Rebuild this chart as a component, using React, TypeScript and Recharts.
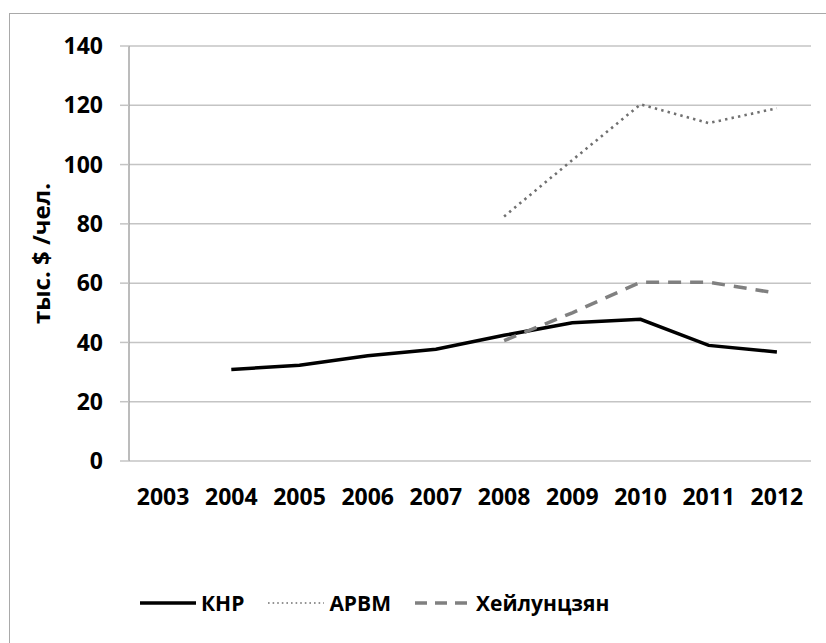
import React from 'react';
import { LineChart, Line, XAxis, YAxis, CartesianGrid, Legend, Label } from 'recharts';

// categories and values
const years = ['2003', '2004', '2005', '2006', '2007', '2008', '2009', '2010', '2011', '2012'];
const knrValues = [null, 30.9, 32.3, 35.5, 37.7, 42.4, 46.6, 47.8, 39.0, 36.8];
const arvmValues = [null, null, null, null, null, 82.5, 101.5, 120.3, 114.0, 119.0];
const heilValues = [null, null, null, null, null, 40.6, 50.0, 60.3, 60.3, 56.6];
const yTicks = [0, 20, 40, 60, 80, 100, 120, 140];

const seriesInfo = [
  { key: 'knr', name: 'КНР', color: '#000000', width: 3.5, dash: undefined },
  { key: 'arvm', name: 'АРВМ', color: '#707070', width: 2.6, dash: '2.4 4.2' },
  { key: 'heil', name: 'Хейлунцзян', color: '#808080', width: 3.5, dash: '13 9' },
];

const data = years.map((year, idx) => ({
  idx,
  year,
  knr: knrValues[idx],
  arvm: arvmValues[idx],
  heil: heilValues[idx],
}));

// tick marks sit between the categories, like in Excel
const boundaryTicks = years.map((_, i) => i - 0.5).concat(years.length - 0.5);
const centerTicks = years.map((_, i) => i);

const FONT = "'Open Sans', 'Liberation Sans', sans-serif";
const GRID = '#c4c4c4';
const AXIS = '#a6a6a6';

const tickStyle = { fill: '#000', fontSize: 23, fontWeight: 700, fontFamily: FONT };

const CustomLegend = () => (
  <div style={{ display: 'flex', alignItems: 'center', height: 30, paddingLeft: 140 }}>
    {seriesInfo.map((s) => (
      <div key={s.key} style={{ display: 'flex', alignItems: 'center', marginRight: 24 }}>
        <svg width={56} height={10} style={{ marginRight: 5 }}>
          <line
            x1={0}
            y1={5}
            x2={56}
            y2={5}
            stroke={s.color}
            strokeWidth={s.key === 'arvm' ? 1.6 : s.width}
            strokeDasharray={s.key === 'heil' ? '12 8' : s.key === 'arvm' ? '1.6 3' : undefined}
          />
        </svg>
        <span style={{ fontFamily: FONT, fontWeight: 700, fontSize: 21, color: '#000' }}>{s.name}</span>
      </div>
    ))}
  </div>
);

const YLabel = (props: any) => {
  const vb = props.viewBox || {};
  const cx = 40;
  const cy = vb.y + vb.height / 2;
  return (
    <text
      x={cx}
      y={cy}
      transform={`rotate(-90, ${cx}, ${cy})`}
      textAnchor="middle"
      dominantBaseline="central"
      style={{ fontFamily: FONT, fontWeight: 700, fontSize: 24, fill: '#000' }}
    >
      тыс. $ /чел.
    </text>
  );
};

export default function App() {
  return (
    <div
      style={{
        position: 'fixed',
        left: 0,
        top: 0,
        width: 826,
        height: 643,
        overflow: 'hidden',
        background: '#fff',
      }}
    >
      <div
        style={{
          position: 'absolute',
          left: 9,
          top: 13,
          width: 900,
          height: 700,
          border: '1.5px solid #a9a9a9',
        }}
      />
      <div style={{ position: 'absolute', left: 0, top: 0 }}>
        <LineChart width={826} height={643} data={data} margin={{ top: 46, right: 15, left: 0, bottom: 92 }}>
          <CartesianGrid
            xAxisId="t"
            vertical={false}
            stroke={GRID}
            strokeWidth={1.5}
          />
          <XAxis
            xAxisId="t"
            type="number"
            dataKey="idx"
            domain={[-0.5, years.length - 0.5]}
            ticks={boundaryTicks}
            interval={0}
            height={0}
            tickSize={9}
            tick={() => <g />}
            axisLine={{ stroke: AXIS, strokeWidth: 1.5 }}
            tickLine={{ stroke: AXIS, strokeWidth: 1.5 }}
          />
          <XAxis
            xAxisId="l"
            type="number"
            dataKey="idx"
            domain={[-0.5, years.length - 0.5]}
            ticks={centerTicks}
            interval={0}
            height={60}
            tickSize={0}
            tickMargin={28}
            tickFormatter={(i: number) => years[i]}
            axisLine={false}
            tickLine={false}
            tick={tickStyle}
          />
          <YAxis
            type="number"
            domain={[0, 140]}
            ticks={yTicks}
            interval={0}
            width={129}
            tickSize={9}
            tickMargin={17}
            tick={tickStyle}
            axisLine={{ stroke: AXIS, strokeWidth: 1.5 }}
            tickLine={{ stroke: GRID, strokeWidth: 1.5 }}
          >
            <Label content={<YLabel />} />
          </YAxis>
          <Legend
            verticalAlign="bottom"
            content={<CustomLegend />}
            wrapperStyle={{ top: 588, bottom: 'auto', left: 0, width: 826 }}
          />
          {seriesInfo.map((s) => (
            <Line
              key={s.key}
              xAxisId="t"
              type="linear"
              dataKey={s.key}
              name={s.name}
              stroke={s.color}
              strokeWidth={s.width}
              strokeDasharray={s.dash}
              dot={false}
              activeDot={false}
              isAnimationActive={false}
            />
          ))}
        </LineChart>
      </div>
    </div>
  );
}
